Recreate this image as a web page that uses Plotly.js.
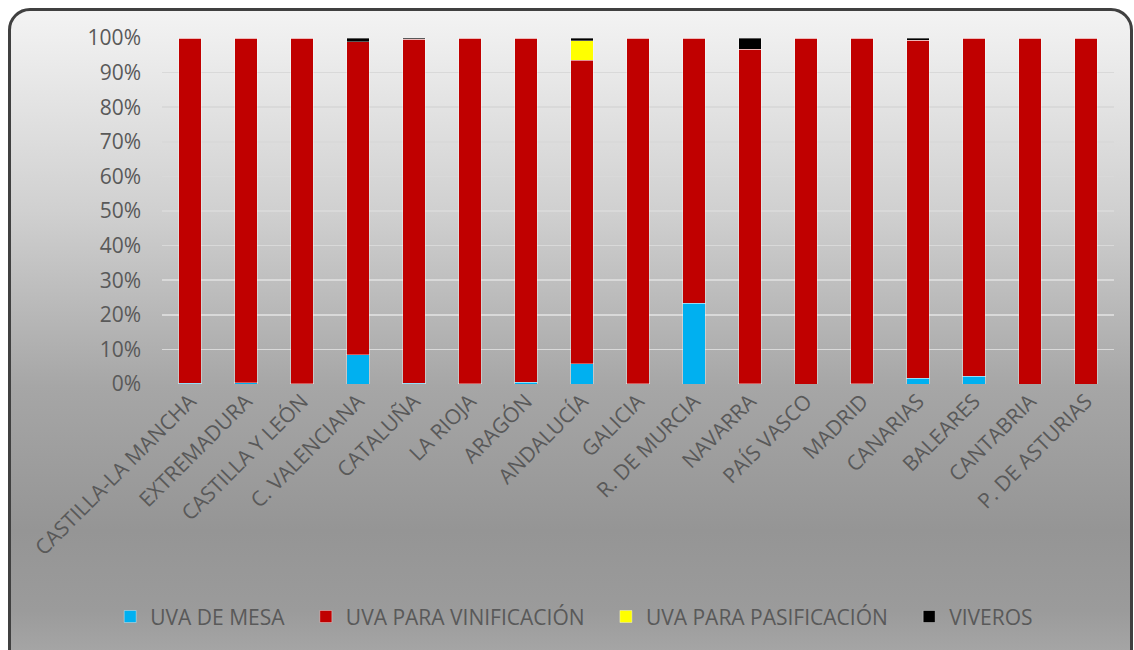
<!DOCTYPE html>
<html>
<head>
<meta charset="utf-8">
<script src="https://cdn.plot.ly/plotly-3.0.1.min.js"></script>
<style>
  html, body { margin:0; padding:0; width:1134px; height:650px; overflow:hidden; background:#ffffff; }
  #frame {
    position:absolute; left:8px; top:8px; width:1119px; height:660px;
    border:3px solid #404040; border-radius:22px;
    background: linear-gradient(to bottom, #f3f3f3 0px, #e9e9e9 60px, #d0d0d0 200px, #a6a6a6 376px, #959595 520px, #9b9b9b 600px, #aaaaaa 660px);
  }
  #chart { position:absolute; left:0; top:0; width:1134px; height:650px; }
</style>
</head>
<body>
<div id="frame"></div>
<div id="chart"></div>
<script>
const categories = ["CASTILLA-LA MANCHA","EXTREMADURA","CASTILLA Y LEÓN","C. VALENCIANA","CATALUÑA","LA RIOJA","ARAGÓN","ANDALUCÍA","GALICIA","R. DE MURCIA","NAVARRA","PAÍS VASCO","MADRID","CANARIAS","BALEARES","CANTABRIA","P. DE ASTURIAS"];
const uvaMesa         = [0.2, 0.3, 0.1, 8.4, 0.2, 0.1, 0.5, 5.8, 0.1, 23.4, 0.1, 0.0, 0.1, 1.6, 2.2, 0.0, 0.0];
const uvaVinificacion = [99.8, 99.7, 99.9, 90.5, 99.5, 99.9, 99.5, 87.8, 99.9, 76.6, 96.8, 100, 99.9, 97.8, 97.8, 100, 100];
const uvaPasificacion = [0, 0, 0, 0, 0, 0, 0, 5.6, 0, 0, 0, 0, 0, 0, 0, 0, 0];
const viveros         = [0, 0, 0, 1.1, 0.3, 0, 0, 0.8, 0, 0, 3.2, 0, 0, 0.6, 0, 0, 0];
const seriesNames = ["UVA DE MESA","UVA PARA VINIFICACIÓN","UVA PARA PASIFICACIÓN","VIVEROS"];
const seriesColors = ["#00b0f0","#c00000","#ffff00","#000000"];
const yTickVals = [0,10,20,30,40,50,60,70,80,90,100];
const yTickText = ["0%","10%","20%","30%","40%","50%","60%","70%","80%","90%","100%"];

const seriesValues = [uvaMesa, uvaVinificacion, uvaPasificacion, viveros];
const pad = '\u00a0\u00a0\u00a0';
const traces = seriesValues.map((vals, i) => ({
  type:'bar', name: seriesNames[i] + (i < 3 ? pad : ''), x: categories, y: vals,
  marker:{color: seriesColors[i], line:{color:'rgba(255,255,255,0.35)', width:1}},
  hoverinfo:'x+y+name'
}));

const font = {family:'"Open Sans", "Noto Sans", sans-serif', color:'#595959', size:21};
const layout = {
  width:1134, height:650,
  paper_bgcolor:'rgba(0,0,0,0)', plot_bgcolor:'rgba(0,0,0,0)',
  margin:{l:162, r:20, t:38, b:266},
  barmode:'stack', barnorm:'percent', bargap:0.6,
  font: font,
  showlegend:true,
  legend:{orientation:'h', x:0.433, xanchor:'center', y:-0.673, yanchor:'middle',
          font:font, traceorder:'normal', itemwidth:30, bgcolor:'rgba(0,0,0,0)'},
  xaxis:{tickangle:-45, tickfont:font, showgrid:false, zeroline:false, showline:false, ticks:'', automargin:false},
  yaxis:{range:[0,100], tickvals:yTickVals, ticktext:yTickText, tickfont:font,
         showgrid:true, gridcolor:'#d9d9d9', gridwidth:1.5, zeroline:false, showline:false,
         ticks:'', ticklabelstandoff:20, automargin:false}
};
Plotly.newPlot('chart', traces, layout, {displayModeBar:false, staticPlot:true});
</script>
</body>
</html>
